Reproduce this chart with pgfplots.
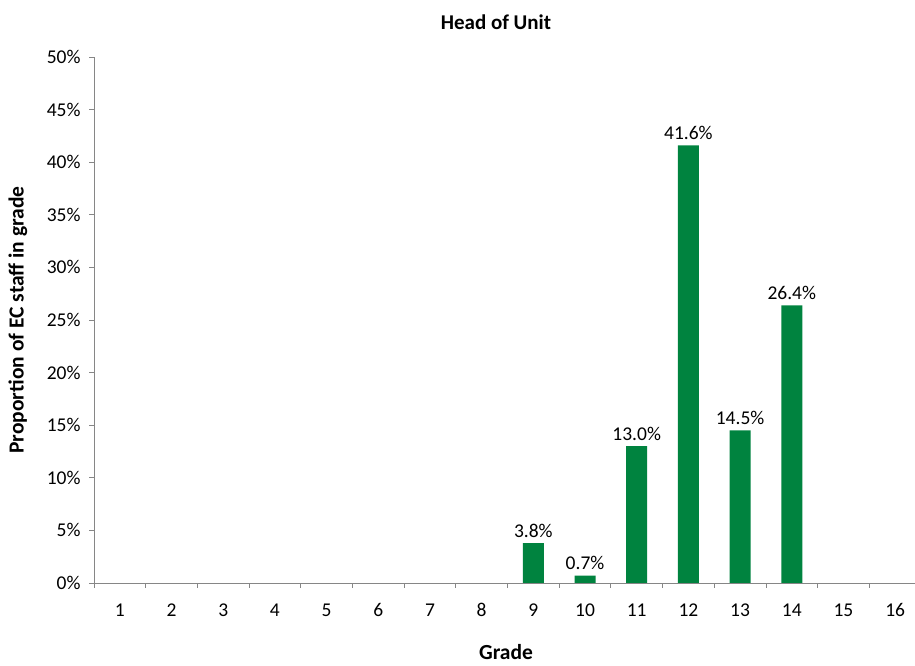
\documentclass[border=0pt]{standalone}
\usepackage{pgfplots}
\pgfplotsset{compat=1.18}
\usepackage{fontspec}
\setmainfont{Carlito}
\definecolor{barGreen}{HTML}{00833F}
\definecolor{axisGray}{HTML}{868686}
\begin{document}
\begin{tikzpicture}[x=1pt,y=1pt]
\useasboundingbox (-94,-83) rectangle (821,583);
\begin{axis}[
  at={(0,0)}, anchor=origin,
  scale only axis,
  width=827pt, height=526pt,
  xmin=0.5, xmax=16.5,
  ymin=0, ymax=50,
  axis x line*=bottom,
  axis y line*=left,
  axis line style={axisGray, line width=0.8pt},
  xtick={1,...,16},
  major x tick style={draw=none},
  minor xtick={0.5,1.5,...,16.5},
  minor x tick style={axisGray, line width=0.8pt},
  minor tick length=5pt,
  ytick={0,5,...,50},
  major y tick style={axisGray, line width=0.8pt},
  major tick length=5pt,
  tick align=outside,
  yticklabel={\pgfmathprintnumber[fixed,precision=0]{\tick}\%},
  /pgf/number format/assume math mode=true,
  tick label style={font=\fontsize{19.5}{22}\selectfont, black},
  xticklabel style={yshift=-12pt},
  yticklabel style={xshift=-5pt},
  clip=false,
]
\addplot[ybar, bar width=21pt, fill=barGreen, draw=none,
  nodes near coords={\pgfmathprintnumber[fixed,fixed zerofill,precision=1]{\pgfplotspointmeta}\%},
  nodes near coords style={font=\fontsize{19.5}{22}\selectfont, black, /pgf/number format/assume math mode=true, yshift=2pt},
] coordinates {
  (9,3.8) (10,0.7) (11,13.0) (12,41.6) (13,14.5) (14,26.4)
};
\end{axis}
\node[font=\fontsize{21}{24}\selectfont\bfseries] at (402,561) {Head of Unit};
\node[font=\fontsize{21.5}{24}\selectfont\bfseries, rotate=90] at (-76,263) {Proportion of EC staff in grade};
\node[font=\fontsize{21.5}{24}\selectfont\bfseries] at (412,-69) {Grade};
\end{tikzpicture}
\end{document}
